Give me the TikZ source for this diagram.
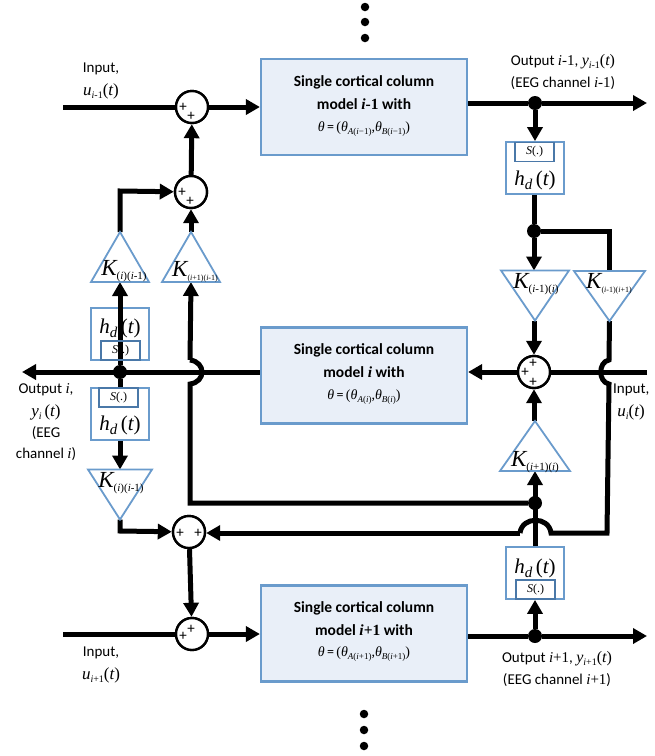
\documentclass[tikz,border=0pt]{standalone}
\usepackage{fontspec}
\setmainfont{Carlito}
\newfontfamily\tmf{Liberation Serif}
\usetikzlibrary{arrows.meta}
\definecolor{bord}{HTML}{6A9BCC}
\definecolor{inner}{HTML}{4A78A8}
\definecolor{fillb}{HTML}{E9EFF8}
\newcommand\tmi[1]{{\tmf\itshape #1}}
\newcommand\tmr[1]{{\tmf #1}}
\newcommand\bi[1]{{\tmf\bfseries\itshape #1}}
\newcommand\br[1]{{\tmf\bfseries #1}}
\newcommand\sizes[2]{\fontsize{#1}{#2}\selectfont}
\newcommand\lowr[3]{\raisebox{-#2pt}{\sizes{#1}{#1}#3}}
\newcommand\hd{{\sizes{21}{21}\tmi{h}\lowr{15}{4}{\tmi{d}}\,\tmr{(}\tmi{t}\tmr{)}}}
\newcommand\Sf{{\sizes{12}{12}\tmi{S}\tmr{(.)}}}
\newcommand\Kf[2]{{\sizes{23}{23}\tmi{K}\lowr{#1}{4}{\tmf #2}}}
\newcommand\Th[2]{{\sizes{14}{14}\tmi{θ}\,=\,\tmr{(}\tmi{θ}\lowr{9}{3}{\tmf #1}\tmr{,}\tmi{θ}\lowr{9}{3}{\tmf #2}\tmr{)}}}
\newcommand\Mi[1]{\tmi{#1}}
\newcommand\Sb[1]{\lowr{10}{3}{\tmf #1}}
\newcommand\trinode[4]{% name, cx, top y, size wxh; upward when #4=u
  \node[tribox,minimum width=#3] (#1) at (#2) {};}
\tikzset{
  wire/.style={line width=5pt,black},
  flow/.style={wire,-{Triangle[length=14pt,width=15pt]}},
  model/.style={draw=bord,fill=fillb,line width=2.2pt,minimum width=206pt,minimum height=96pt,inner sep=0pt},
  delaybox/.style={draw=bord,fill=white,line width=1.8pt,minimum width=58pt,minimum height=52pt,inner sep=0pt},
  sbox/.style={draw=inner,line width=1.8pt,minimum width=39pt,minimum height=19pt,inner sep=0pt},
  summer/.style={circle,draw=black,fill=white,line width=2.4pt,minimum size=32pt,inner sep=0pt},
  tribox/.style={rectangle,minimum height=50pt,inner sep=0pt,outer sep=0pt},
  triline/.style={draw=bord,fill=white,line width=1.8pt,line join=miter},
  junction/.style={circle,fill=black,minimum size=14pt,inner sep=0pt},
  vdot/.style={circle,fill=black,minimum size=8.5pt,inner sep=0pt},
  lab/.style={inner sep=0pt,align=center,font=\sizes{15}{18}},
  head/.style={inner sep=0pt,font=\sizes{15.5}{18}\bfseries},
  plus/.style={inner sep=0pt,font=\sizes{15}{15}},
}
\begin{document}
\begin{tikzpicture}[x=1pt,y=-1pt]
\useasboundingbox (0,0) rectangle (655,756);
% model blocks
\node[model] (m1) at (364,107) {};
\node[model] (m2) at (364,375.5) {};
\node[model] (m3) at (364,633.5) {};
% summers
\node[summer] (s1) at (192,107) {};
\node[summer] (s2) at (191,192) {};
\node[summer] (s3) at (534,372) {};
\node[summer] (s4) at (189,532) {};
\node[summer] (s5) at (192,634) {};
% delay boxes
\node[delaybox] (hlu) at (120,334) {};
\node[delaybox] (hll) at (120,414) {};
\node[delaybox] (hru) at (535,168) {};
\node[delaybox] (hrl) at (535,573) {};
% triangles frames
\node[tribox,minimum width=58pt] (t1) at (120,257) {};
\node[tribox,minimum width=58pt] (t2) at (191,257) {};
\node[tribox,minimum width=68pt] (t3) at (535,295.5) {};
\node[tribox,minimum width=71pt] (t4) at (609.5,296) {};
\node[tribox,minimum width=70pt] (t5) at (535,446) {};
\node[tribox,minimum width=64pt] (t6) at (120,494.5) {};
% junctions
\node[junction] (j1) at (535,103) {};
\node[junction] (j2) at (534,231) {};
\node[junction] (j3) at (120,372) {};
\node[junction] (j4) at (535,503) {};
\node[junction] (j5) at (535,636) {};
% free ends
\coordinate (in1) at (63,107);
\coordinate (in3) at (63,634);
\coordinate (inr) at (647,372);
\coordinate (o1) at (647,103);
\coordinate (o2) at (22,372);
\coordinate (o3) at (647,636);
\coordinate (c1) at (120,191);
\coordinate (c2) at (609,231);
\coordinate (c3) at (190,503);
\coordinate (c4) at (120,531);
\coordinate (c5) at (607,533);
\coordinate (m1e) at (m1.east |- j1);
\coordinate (m3e) at (m3.east |- j5);
% bumps
\coordinate (b1a) at (190,360);
\coordinate (b1b) at (190,384);
\coordinate (b2a) at (609,360);
\coordinate (b2b) at (609,384);
\coordinate (b3a) at (551,533);
\coordinate (b3b) at (520,533);
% connectors
\draw[wire] (in1) -- (s1);
\draw[flow] (s1) -- (m1.west |- s1);
\draw[wire] (m1e) -- (j1);
\draw[flow] (j1) -- (o1);
\draw[flow] (j1) -- (hru.north -| j1);
\draw[wire] (hru.south -| j2) -- (j2);
\draw[flow] (j2) -- (t3.north -| j2);
\draw[wire,line join=miter] (j2) -| (t4.north);
\draw[wire,line join=miter] (t4.south) -- (b2a) .. controls (598,362) and (598,382) .. (b2b) -- (c5) -- (b3a) .. controls (549,516) and (522,516) .. (b3b);
\draw[flow] (b3b) -- (s4.east |- b3b);
\draw[wire] (inr) -- (s3);
\draw[flow] (s3) -- (m2.east |- s3);
\draw[flow] (t3.south -| s3) -- (s3);
\draw[flow] (t5.north -| s3) -- (s3);
\draw[flow] (hrl.north -| j4) -- (t5.south -| j4);
\draw[wire,line join=miter] (j4) -- (c3) -- (b1b) .. controls (206,382) and (206,362) .. (b1a);
\draw[flow] (b1a) -- (t2.south);
\draw[flow] (m2.west |- j3) -- (o2);
\draw[wire] (j3) -- (hll.north);
\draw[flow] (j3) -- (t1.south);
\draw[flow,rounded corners=0pt] (t1.north) -- (c1) -- (s2);
\draw[flow] (t2.north) -- (s2);
\draw[flow] (s2) -- (s1);
\draw[flow] (hll.south) -- (t6.north);
\draw[flow] (t6.south) -- (c4) -- (s4);
\draw[flow] (s4) -- (s5);
\draw[wire] (in3) -- (s5);
\draw[flow] (s5) -- (m3.west |- s5);
\draw[wire] (m3e) -- (j5);
\draw[flow] (j5) -- (o3);
\draw[flow] (j5) -- (hrl.south -| j5);
% triangles drawn over connector ends
\draw[triline] (t1.south west) -- (t1.south east) -- (t1.north) -- cycle;
\draw[triline] (t2.south west) -- (t2.south east) -- (t2.north) -- cycle;
\draw[triline] (t3.north west) -- (t3.north east) -- (t3.south) -- cycle;
\draw[triline] (t4.north west) -- (t4.north east) -- (t4.south) -- cycle;
\draw[triline] (t5.south west) -- (t5.south east) -- (t5.north) -- cycle;
\draw[triline] (t6.north west) -- (t6.north east) -- (t6.south) -- cycle;
% redraw arrows tips above triangles are not needed
% summers, junction on top
\node[summer] at (s1) {};
\node[summer] at (s2) {};
\node[summer] at (s3) {};
\node[summer] at (s4) {};
\node[summer] at (s5) {};
\node[plus] (p11) at (183,107) {+};
\node[plus] (p12) at (191,116) {+};
\node[plus] (p21) at (182,192) {+};
\node[plus] (p22) at (190,201) {+};
\node[plus] (p31) at (525,372) {+};
\node[plus] (p32) at (533,363) {+};
\node[plus] (p33) at (533,382) {+};
\node[plus] (p41) at (180,533) {+};
\node[plus] (p42) at (198,533) {+};
\node[plus] (p51) at (183,636) {+};
\node[plus] (p52) at (191,629) {+};
% vertical dots
\node[vdot] (d1) at (365,7) {};
\node[vdot] (d2) at (365,22) {};
\node[vdot] (d3) at (365,38) {};
\node[vdot] (d4) at (364,714) {};
\node[vdot] (d5) at (364,730) {};
\node[vdot] (d6) at (364,746) {};
% delay box contents
\node[sbox] (su) at (120.5,350.5) {\Sf};
\node[sbox] (sl) at (118.5,397.5) {\Sf};
\node[sbox] (sr) at (534.5,152) {\Sf};
\node[sbox] (srl) at (535.5,589.5) {\Sf};
\node[inner sep=0pt] (hlu1) at (120,328) {\hd};
\node[inner sep=0pt] (hll1) at (120,425) {\hd};
\node[inner sep=0pt] (hru1) at (535,180) {\hd};
\node[inner sep=0pt] (hrl1) at (535,568) {\hd};
% gains
\node[inner sep=0pt] (k1) at (124,271) {\Kf{11}{(\tmi{i})(\tmi{i}-1)}};
\node[inner sep=0pt] (k2) at (195,272) {\Kf{8}{(\tmi{i}+1)(\tmi{i}-1)}};
\node[inner sep=0pt] (k3) at (536,284) {\Kf{11}{(\tmi{i}-1)(\tmi{i})}};
\node[inner sep=0pt] (k4) at (609,284) {\Kf{8}{(\tmi{i}-1)(\tmi{i}+1)}};
\node[inner sep=0pt] (k5) at (535,462) {\Kf{11}{(\tmi{i}+1)(\tmi{i})}};
\node[inner sep=0pt] (k6) at (121,483) {\Kf{11}{(\tmi{i})(\tmi{i}-1)}};
% model text
\node[head] (h11) at (364,82) {Single cortical column};
\node[head] (h12) at (364,104) {model \bi{i}\br{-1} with};
\node[lab] (h13) at (364,129) {\Th{\tmi{A}(\tmi{i}−1)}{\tmi{B}(\tmi{i}−1)}};
\node[head] (h21) at (364,350) {Single cortical column};
\node[head] (h22) at (364,372) {model \bi{i} with};
\node[lab] (h23) at (364,397) {\Th{\tmi{A}(\tmi{i})}{\tmi{B}(\tmi{i})}};
\node[head] (h31) at (364,608) {Single cortical column};
\node[head] (h32) at (364,630) {model \bi{i}\br{+1} with};
\node[lab] (h33) at (364,654) {\Th{\tmi{A}(\tmi{i}+1)}{\tmi{B}(\tmi{i}+1)}};
% io labels
\node[lab] (l1) at (101,69) {Input,};
\node[lab] (l2) at (101,91) {\sizes{17}{17}\tmi{u}\Sb{\tmi{i}-1}\tmr{(}\tmi{t}\tmr{)}};
\node[lab] (l3) at (563,62) {Output \Mi{i}\tmr{-1}, \sizes{16}{16}\tmi{y}\Sb{\tmi{i}-1}\tmr{(}\tmi{t}\tmr{)}};
\node[lab] (l4) at (563,83) {(EEG channel \Mi{i}\tmr{-1})};
\node[lab] (l5) at (46,390) {Output \Mi{i},};
\node[lab] (l6) at (46,412) {\sizes{17}{17}\tmi{y}\Sb{\tmi{i}}\,\tmr{(}\tmi{t}\tmr{)}};
\node[lab] (l7) at (46,433) {(EEG};
\node[lab] (l8) at (46,454) {channel \Mi{i})};
\node[lab,anchor=west] (l9) at (613,390) {Input,};
\node[lab] (l10) at (631,412) {\sizes{17}{17}\tmi{u}\Sb{\tmi{i}}\tmr{(}\tmi{t}\tmr{)}};
\node[lab] (l11) at (101,653) {Input,};
\node[lab] (l12) at (101,675) {\sizes{17}{17}\tmi{u}\Sb{\tmi{i}+1}\tmr{(}\tmi{t}\tmr{)}};
\node[lab] (l13) at (557,659) {Output \Mi{i}\tmr{+1}, \sizes{16}{16}\tmi{y}\Sb{\tmi{i}+1}\tmr{(}\tmi{t}\tmr{)}};
\node[lab] (l14) at (557,680) {(EEG channel \Mi{i}\tmr{+1})};
\end{tikzpicture}
\end{document}
